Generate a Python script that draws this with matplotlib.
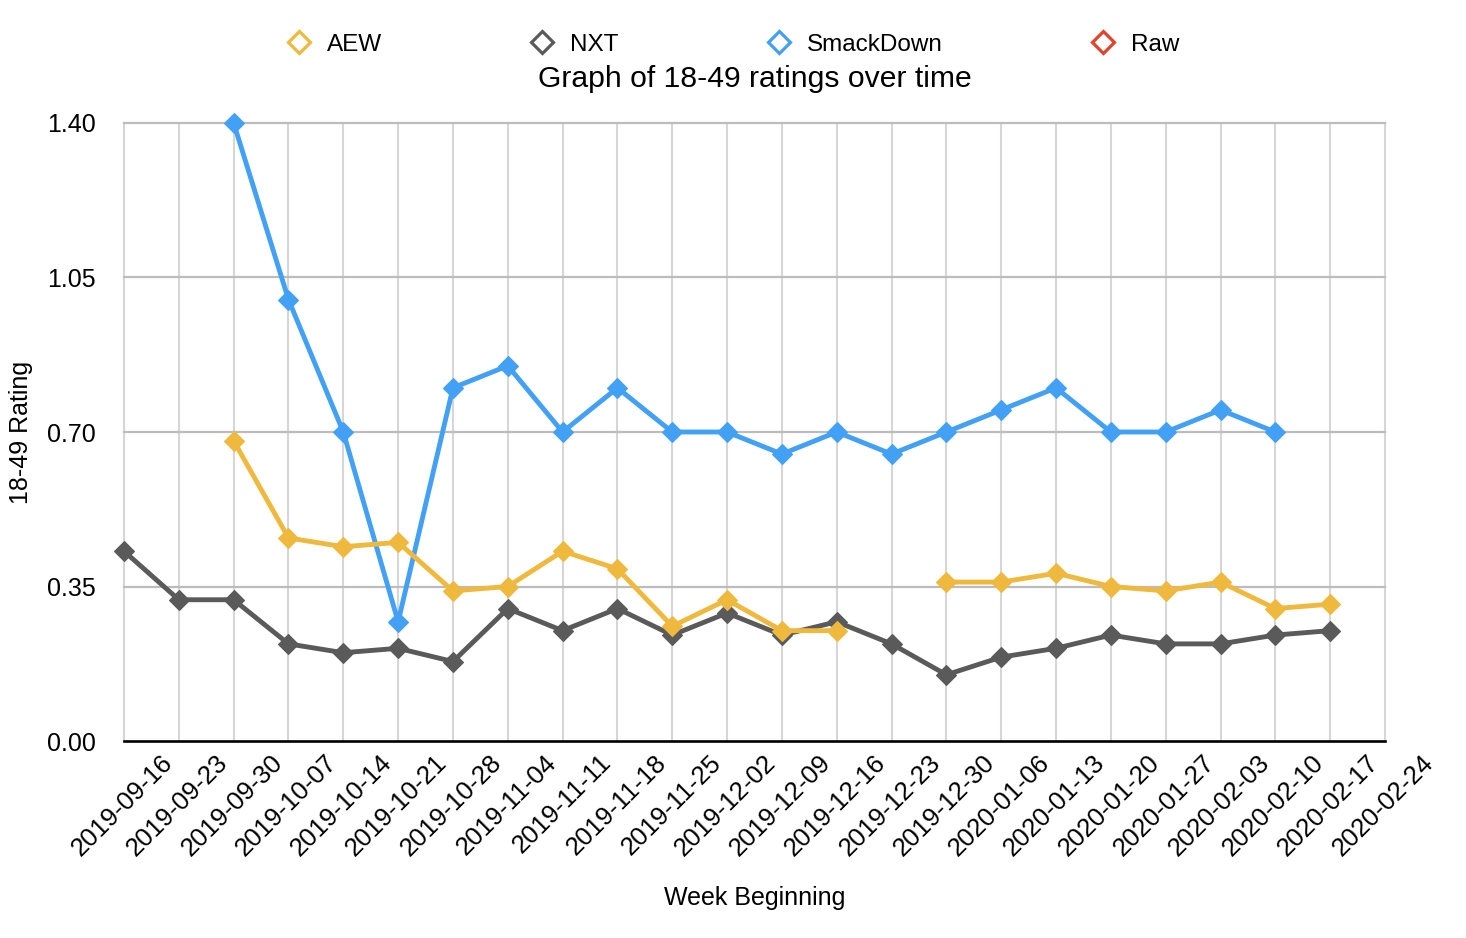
import numpy as np
import matplotlib
matplotlib.use("Agg")
import matplotlib.pyplot as plt
from matplotlib.lines import Line2D
from matplotlib.transforms import ScaledTranslation

plt.rcParams['font.family'] = ['Liberation Sans', 'DejaVu Sans']

nan = np.nan

weeks = ["2019-09-16", "2019-09-23", "2019-09-30", "2019-10-07", "2019-10-14",
         "2019-10-21", "2019-10-28", "2019-11-04", "2019-11-11", "2019-11-18",
         "2019-11-25", "2019-12-02", "2019-12-09", "2019-12-16", "2019-12-23",
         "2019-12-30", "2020-01-06", "2020-01-13", "2020-01-20", "2020-01-27",
         "2020-02-03", "2020-02-10", "2020-02-17", "2020-02-24"]

aew = [nan, nan, 0.68, 0.46, 0.44, 0.45, 0.34, 0.35, 0.43, 0.39, 0.26, 0.32,
       0.25, 0.25, nan, 0.36, 0.36, 0.38, 0.35, 0.34, 0.36, 0.30, 0.31]
nxt = [0.43, 0.32, 0.32, 0.22, 0.20, 0.21, 0.18, 0.30, 0.25, 0.30, 0.24, 0.29,
       0.24, 0.27, 0.22, 0.15, 0.19, 0.21, 0.24, 0.22, 0.22, 0.24, 0.25]
smackdown = [nan, nan, 1.40, 1.00, 0.70, 0.27, 0.80, 0.85, 0.70, 0.80, 0.70, 0.70,
             0.65, 0.70, 0.65, 0.70, 0.75, 0.80, 0.70, 0.70, 0.75, 0.70, nan]
raw = []

series_names = ["AEW", "NXT", "SmackDown", "Raw"]
series_colors = ["#efb93e", "#5a5a5a", "#42a0f5", "#e2432a"]
y_ticks = [0.00, 0.35, 0.70, 1.05, 1.40]

W, H = 1466, 938
fig = plt.figure(figsize=(W / 100, H / 100), dpi=100)
ax = fig.add_axes([124 / W, 1 - 741 / H, (1385 - 124) / W, (741 - 123) / H])
ax.set_xlim(0, len(weeks) - 1)
ax.set_ylim(y_ticks[0], y_ticks[-1])

# grid
for v in y_ticks[1:]:
    ax.axhline(v, color="#bcbcbc", lw=1.6, zorder=0.6, clip_on=False)
for i in range(len(weeks)):
    ax.axvline(i, color="#d6d6d6", lw=1.5, zorder=0.5, clip_on=False)

for sp in ["left", "right", "top"]:
    ax.spines[sp].set_visible(False)
ax.spines["bottom"].set_color("black")
ax.spines["bottom"].set_linewidth(1.9)
ax.spines["bottom"].set_zorder(5)

data = [aew, nxt, smackdown, raw]
zorders = [4, 3, 2, 1]
for vals, col, z in zip(data, series_colors, zorders):
    if len(vals) == 0:
        continue
    x = np.arange(len(vals))
    ax.plot(x, vals, color=col, lw=3.5, marker="D", ms=10, mec=col, mfc=col,
            mew=0.8, zorder=z, clip_on=False)

ax.set_yticks(y_ticks)
ax.set_yticklabels([f"{v:.2f}" for v in y_ticks])
ax.tick_params(axis="y", length=0, pad=20.5, labelsize=18)

ax.set_xticks(range(len(weeks)))
ax.set_xticklabels(weeks, rotation=45, rotation_mode="anchor", ha="right", va="center")
ax.tick_params(axis="x", length=0, pad=12.8, labelsize=18.5)
off = ScaledTranslation(0.45, 0, fig.dpi_scale_trans)
for lbl in ax.get_xticklabels():
    lbl.set_transform(lbl.get_transform() + off)

fig.text(755 / W, 1 - 87 / H, "Graph of 18-49 ratings over time",
         ha="center", va="baseline", fontsize=21.7)
fig.text(755 / W, 1 - 905 / H, "Week Beginning",
         ha="center", va="baseline", fontsize=18)
fig.text(28 / W, 1 - 432 / H, "18-49 Rating", rotation=90, rotation_mode="anchor",
         ha="center", va="baseline", fontsize=18)

handles = [Line2D([], [], color=c, marker="D", ms=11, mfc="none", mec=c, mew=2.3, ls="none")
           for c in series_colors]
fig.legend(handles, series_names, loc="center", bbox_to_anchor=(0.5, 1 - 45 / H),
           ncol=4, frameon=False, fontsize=17.5, handlelength=1.0, handletextpad=0.65,
           columnspacing=6.1, borderpad=0, borderaxespad=0)

fig.savefig("out.png", dpi=100)
